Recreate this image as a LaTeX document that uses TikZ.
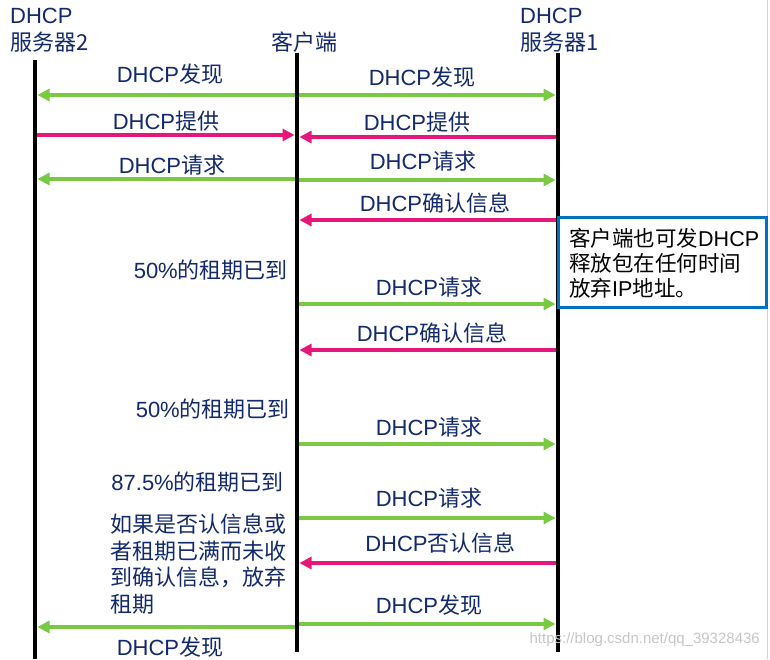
\documentclass[tikz,border=0pt]{standalone}
\usepackage{fontspec}
\setmainfont{Liberation Sans}
\newfontfamily\cjk{Noto Sans CJK SC}
\usetikzlibrary{arrows.meta}
\definecolor{navy}{HTML}{12296B}
\definecolor{ggreen}{HTML}{7AC943}
\definecolor{ppink}{HTML}{E5177B}
\definecolor{boxblue}{HTML}{0070C0}
\newcommand\zh[1]{{\cjk #1}}
\begin{document}
\begin{tikzpicture}[x=1pt,y=-1pt,
  lbl/.style={text=navy,font=\fontsize{22}{26.5}\selectfont,inner sep=0pt},
  blbl/.style={text=black,font=\fontsize{21.5}{25}\selectfont,inner sep=0pt,align=left},
  life/.style={line width=4.5pt,black},
  tip/.style={-{Triangle[length=12pt,width=12pt]}},
  gmsg/.style={line width=4pt,ggreen,tip,shorten >=2.5pt},
  pmsg/.style={line width=4pt,ppink,tip,shorten >=2.5pt},
  note/.style={draw=boxblue,line width=3pt,inner sep=0pt}]
\useasboundingbox (0,0) rectangle (770,659);
\fill[white] (0,0) rectangle (770,659);
\draw[gray!35,line width=1pt] (767,0) -- (767,659);

% lifeline anchors
\coordinate (S2) at (35,0);
\coordinate (C) at (297,0);
\coordinate (S1) at (558,0);
\coordinate (S2top) at (35,60);
\coordinate (S2bot) at (35,659);
\coordinate (Ctop) at (297,53);
\coordinate (Cbot) at (297,652);
\coordinate (S1top) at (558,53);
\coordinate (S1bot) at (558,652);

% headers
\node[lbl,align=left,anchor=north west] (h2) at (10,8) {DHCP\\\zh{服务器2}};
\node[lbl] (hc) at (304.5,42) {\zh{客户端}};
\node[lbl,align=left,anchor=north west] (h1) at (520,8) {DHCP\\\zh{服务器1}};

% messages
\draw[gmsg,{Triangle[length=12pt,width=12pt]}-{Triangle[length=12pt,width=12pt]},shorten <=2.5pt] (S2 |- 0,95) -- (S1 |- 0,95);
\node[lbl] (l1a) at (170,74) {DHCP\zh{发现}};
\node[lbl] (l1b) at (422,77) {DHCP\zh{发现}};

\draw[pmsg] (S2 |- 0,135) -- (C |- 0,135);
\draw[pmsg] (S1 |- 0,137) -- (C |- 0,137);
\node[lbl] (l2a) at (166,121) {DHCP\zh{提供}};
\node[lbl] (l2b) at (417,122) {DHCP\zh{提供}};

\draw[gmsg] (C |- 0,179) -- (S2 |- 0,179);
\draw[gmsg] (C |- 0,180) -- (S1 |- 0,180);
\node[lbl] (l3a) at (172,165) {DHCP\zh{请求}};
\node[lbl] (l3b) at (423,161.5) {DHCP\zh{请求}};

\draw[pmsg] (S1 |- 0,220) -- (C |- 0,220);
\node[lbl] (l4) at (435,203) {DHCP\zh{确认信息}};

\node[lbl,anchor=east] (t50a) at (288,270) {50\%\zh{的租期已到}};

\draw[gmsg] (C |- 0,304) -- (S1 |- 0,304);
\node[lbl] (l7) at (429,287) {DHCP\zh{请求}};

\draw[pmsg] (S1 |- 0,350) -- (C |- 0,350);
\node[lbl] (l8) at (432,333) {DHCP\zh{确认信息}};

\node[lbl,anchor=east] (t50b) at (290,409) {50\%\zh{的租期已到}};

\draw[gmsg] (C |- 0,444) -- (S1 |- 0,444);
\node[lbl] (l10) at (429,427) {DHCP\zh{请求}};

\node[lbl,anchor=east] (t875) at (284,482) {87.5\%\zh{的租期已到}};

\draw[gmsg] (C |- 0,518) -- (S1 |- 0,518);
\node[lbl] (l12) at (429,498) {DHCP\zh{请求}};

\node[lbl,align=left,anchor=north west] (tif) at (110,514)
  {\zh{如果是否认信息或}\\\zh{者租期已满而未收}\\\zh{到确认信息，放弃}\\\zh{租期}};

\draw[pmsg] (S1 |- 0,563) -- (C |- 0,563);
\node[lbl] (l14) at (440.5,543) {DHCP\zh{否认信息}};

\draw[gmsg] (C |- 0,624) -- (S1 |- 0,624);
\draw[gmsg] (C |- 0,627) -- (S2 |- 0,627);
\node[lbl] (l15b) at (429,605) {DHCP\zh{发现}};
\node[lbl] (l15a) at (170,647) {DHCP\zh{发现}};

% lifelines
\draw[life] (S2top) -- (S2bot);
\draw[life] (Ctop) -- (Cbot);
\draw[life] (S1top) -- (S1bot);

% note box
\draw[note,fill=white] (558,217) rectangle (766,307);
\node[blbl,anchor=north west] (notetext) at (569,228)
  {\zh{客户端也可发}DHCP\\\zh{释放包在任何时间}\\\zh{放弃}IP\zh{地址。}};

% watermark
\node[text=gray!45,font=\fontsize{15}{15}\selectfont,inner sep=0pt,anchor=east] (wm) at (760,640) {https://blog.csdn.net/qq\_39328436};
\end{tikzpicture}
\end{document}
